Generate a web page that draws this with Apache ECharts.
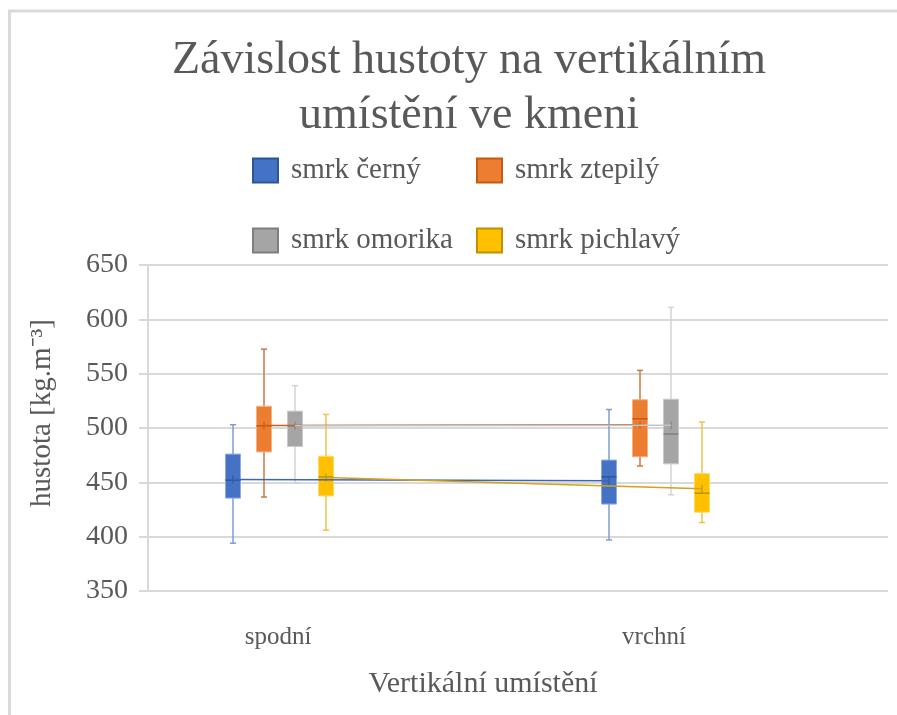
<!DOCTYPE html>
<html>
<head>
<meta charset="utf-8">
<title>Závislost hustoty na vertikálním umístění ve kmeni</title>
<script src="https://cdn.jsdelivr.net/npm/echarts@6/dist/echarts.min.js"></script>
<style>
  html, body { margin: 0; padding: 0; background: #fff; }
  #main { width: 897px; height: 715px; }
</style>
</head>
<body>
<div id="main"></div>
<script>
var categories = ['spodní', 'vrchní'];
var species = ['smrk černý', 'smrk ztepilý', 'smrk omorika', 'smrk pichlavý'];

// one row per species: [spodní, vrchní]
var minVals    = [[394, 397],   [436.5, 465],   [449.5, 438.5], [406, 413]];
var q1Vals     = [[435.5, 430], [478, 473.5],   [483, 467],     [437.5, 422.5]];
var medianVals = [[452, 455],   [502, 508.5],   [502, 494.5],   [455, 440]];
var q3Vals     = [[476, 470.5], [520, 526],     [515.5, 526.5], [474, 458]];
var maxVals    = [[503, 517],   [572.5, 553],   [539, 611],     [512.5, 505.5]];
var meanVals   = [[452.5, 451.5], [502.3, 503], [502, 502.5],   [454.5, 444]];

var yMin = 350, yMax = 650, yStep = 50;

// look
var FONT = '"Liberation Serif", "Times New Roman", serif';
var TXT = '#595959';
var GRID_C = '#d9d9d9';
var fills    = ['#4472C4', '#ED7D31', '#A5A5A5', '#FFC000'];
var boxLine  = ['#8faadc', '#f4b183', '#c9c9c9', '#ffd966'];
var whisker  = ['#7f9bd3', '#c97a45', '#d3d3d3', '#efc24a'];
var medianC  = ['#2f5597', '#c55a11', '#7f7f7f', '#bf9000'];
var meanC    = ['#3f66b3', '#c0652a', '#c4c4c4', '#d4a21a'];
var legBord  = ['#2f5597', '#c55a11', '#7f7f7f', '#bf9000'];
var offsets  = [-45, -14, 17, 48];
var BOX_W = 15, CAP_W = 6;

function seriesData(s) {
  return categories.map(function (c, i) {
    return [i, minVals[s][i], q1Vals[s][i], medianVals[s][i], q3Vals[s][i], maxVals[s][i], meanVals[s][i]];
  });
}

function makeRender(s) {
  return function (params, api) {
    var i = params.dataIndex;
    var cat = api.value(0);
    var x = api.coord([cat, api.value(3)])[0] + offsets[s];
    var yLo = api.coord([cat, api.value(1)])[1];
    var yQ1 = api.coord([cat, api.value(2)])[1];
    var yMed = api.coord([cat, api.value(3)])[1];
    var yQ3 = api.coord([cat, api.value(4)])[1];
    var yHi = api.coord([cat, api.value(5)])[1];
    var yMean = api.coord([cat, api.value(6)])[1];
    var kids = [
      { type: 'line', shape: { x1: x, y1: yHi, x2: x, y2: yLo }, style: { stroke: whisker[s], lineWidth: 1.5 } },
      { type: 'line', shape: { x1: x - CAP_W / 2, y1: yHi, x2: x + CAP_W / 2, y2: yHi }, style: { stroke: whisker[s], lineWidth: 1.5 } },
      { type: 'line', shape: { x1: x - CAP_W / 2, y1: yLo, x2: x + CAP_W / 2, y2: yLo }, style: { stroke: whisker[s], lineWidth: 1.5 } },
      { type: 'rect', shape: { x: x - BOX_W / 2, y: yQ3, width: BOX_W, height: yQ1 - yQ3 },
        style: { fill: fills[s], stroke: boxLine[s], lineWidth: 1 } },
      { type: 'line', shape: { x1: x - BOX_W / 2, y1: yMed, x2: x + BOX_W / 2, y2: yMed }, style: { stroke: medianC[s], lineWidth: 1.5 } },
      { type: 'line', shape: { x1: x, y1: yMean - 4, x2: x, y2: yMean + 4 }, style: { stroke: medianC[s], lineWidth: 1 } }
    ];
    if (i < categories.length - 1) {
      var nxt = api.coord([cat + 1, meanVals[s][i + 1]]);
      kids.push({ type: 'line', z2: 100, shape: { x1: x, y1: yMean, x2: nxt[0] + offsets[s], y2: nxt[1] },
        style: { stroke: meanC[s], lineWidth: 1.5 } });
    }
    return { type: 'group', children: kids };
  };
}

function legendItem(s) {
  return { name: species[s], icon: 'rect', itemStyle: { color: fills[s], borderColor: legBord[s], borderWidth: 2 } };
}

var legendBase = {
  orient: 'vertical', top: 151, itemWidth: 25, itemHeight: 24, itemGap: 41,
  selectedMode: false,
  textStyle: { fontFamily: FONT, fontSize: 29, color: TXT, padding: [0, 0, 0, 8] }
};

var myChart = echarts.init(document.getElementById('main'), null, { renderer: 'canvas' });
var option = {
  animation: false,
  backgroundColor: '#fff',
  title: {
    text: 'Závislost hustoty na vertikálním\numístění ve kmeni',
    left: 469, top: 33, padding: 0, textAlign: 'center',
    textStyle: { fontFamily: FONT, fontSize: 46, fontWeight: 'normal', color: TXT, lineHeight: 55 }
  },
  legend: [
    echarts.util.merge({ left: 247, data: [legendItem(0), legendItem(2)] }, legendBase),
    echarts.util.merge({ left: 471, data: [legendItem(1), legendItem(3)] }, legendBase)
  ],
  graphic: [{
    type: 'rect', silent: true,
    shape: { x: 9.5, y: 11, width: 1000, height: 1000 },
    style: { fill: 'none', stroke: GRID_C, lineWidth: 3 }
  }],
  grid: [
    { left: 148, right: 9, top: 265, height: 326 },
    { left: 90, width: 752, top: 265, height: 326 }
  ],
  xAxis: [
    { gridIndex: 0, type: 'value', show: false, min: 0, max: 1 },
    {
      gridIndex: 1, type: 'category', data: categories,
      axisLine: { show: false }, axisTick: { show: false }, splitLine: { show: false },
      axisLabel: { margin: 34, fontFamily: FONT, fontSize: 25, color: TXT },
      name: 'Vertikální umístění', nameLocation: 'middle', nameGap: 78,
      nameTextStyle: { fontFamily: FONT, fontSize: 30, color: TXT, padding: [0, 0, 0, 34] }
    }
  ],
  yAxis: [
    {
      gridIndex: 0, type: 'value', min: yMin, max: yMax, interval: yStep,
      axisLine: { show: true, lineStyle: { color: GRID_C, width: 2 } },
      axisTick: { show: true, length: 9, lineStyle: { color: GRID_C, width: 2 } },
      splitLine: { show: true, lineStyle: { color: GRID_C, width: 2 } },
      axisLabel: { margin: 20, fontFamily: FONT, fontSize: 28, color: TXT },
      name: 'hustota [kg.m⁻³]', nameLocation: 'middle', nameRotate: 90, nameGap: 91,
      nameTextStyle: { fontFamily: FONT, fontSize: 29, color: TXT, padding: [0, 0, 0, 30] }
    },
    { gridIndex: 1, type: 'value', min: yMin, max: yMax, show: false }
  ],
  series: species.map(function (name, s) {
    return {
      name: name, type: 'custom', xAxisIndex: 1, yAxisIndex: 1,
      itemStyle: { color: fills[s] },
      encode: { x: 0, y: [1, 2, 3, 4, 5] },
      data: seriesData(s),
      renderItem: makeRender(s)
    };
  })
};
myChart.setOption(option);
window.onresize = myChart.resize;
</script>
</body>
</html>
